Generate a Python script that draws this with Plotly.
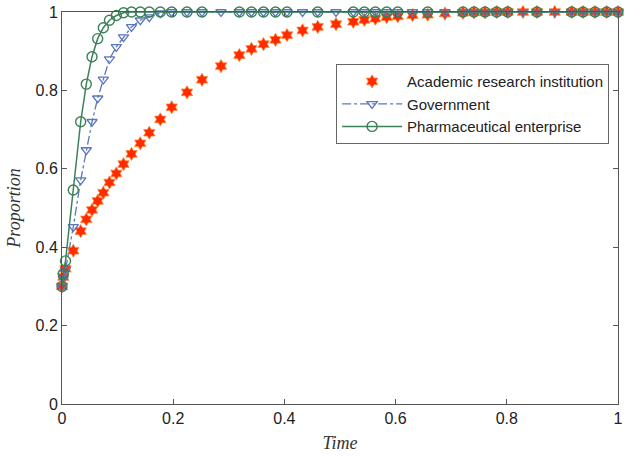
import plotly.graph_objects as go

time = [0, 0.0023, 0.0063, 0.0203, 0.0336, 0.0437, 0.054, 0.0642, 0.0743, 0.0854,
        0.0977, 0.1106, 0.125, 0.1408, 0.157, 0.1768, 0.1973, 0.2248, 0.2518, 0.286,
        0.3189, 0.3408, 0.3624, 0.384, 0.4047, 0.4326, 0.4599, 0.4928, 0.5239, 0.5437,
        0.5635, 0.584, 0.6038, 0.6304, 0.6577, 0.6888, 0.7212, 0.741, 0.7608, 0.7818,
        0.8016, 0.8291, 0.8543, 0.8862, 0.9167, 0.9371, 0.9586, 0.9797, 1.0]

academic = [0.30, 0.324, 0.345, 0.391, 0.441, 0.471, 0.495, 0.518, 0.539, 0.565,
            0.588, 0.612, 0.638, 0.665, 0.692, 0.726, 0.757, 0.795, 0.827, 0.862,
            0.890, 0.906, 0.918, 0.929, 0.941, 0.953, 0.962, 0.969, 0.975, 0.980,
            0.983, 0.987, 0.989, 0.992, 0.993, 0.996, 0.998, 0.999, 0.999, 1.0,
            1.0, 1.0, 1.0, 1.0, 1.0, 1.0, 1.0, 1.0, 1.0]

government = [0.30, 0.32, 0.342, 0.452, 0.571, 0.648, 0.720, 0.780, 0.828, 0.880,
              0.911, 0.936, 0.962, 0.979, 0.987, 0.997, 1.0, 1.0, 1.0, 1.0,
              1.0, 1.0, 1.0, 1.0, 1.0, 1.0, 1.0, 1.0, 1.0, 1.0,
              1.0, 1.0, 1.0, 1.0, 1.0, 1.0, 1.0, 1.0, 1.0, 1.0,
              1.0, 1.0, 1.0, 1.0, 1.0, 1.0, 1.0, 1.0, 1.0]

# circles absent at a few time points
missing = (19, 25, 27, 33, 35, 41, 43)
enterprise_full = [0.30, 0.332, 0.365, 0.546, 0.720, 0.816, 0.886, 0.932, 0.960, 0.979,
                   0.991, 0.998, 1.0, 1.0, 1.0, 1.0, 1.0, 1.0, 1.0, 1.0,
                   1.0, 1.0, 1.0, 1.0, 1.0, 1.0, 1.0, 1.0, 1.0, 1.0,
                   1.0, 1.0, 1.0, 1.0, 1.0, 1.0, 1.0, 1.0, 1.0, 1.0,
                   1.0, 1.0, 1.0, 1.0, 1.0, 1.0, 1.0, 1.0, 1.0]
enterprise_time = [t for i, t in enumerate(time) if i not in missing]
enterprise = [v for i, v in enumerate(enterprise_full) if i not in missing]

x_ticks = [0, 0.2, 0.4, 0.6, 0.8, 1]
x_labels = ["0", "0.2", "0.4", "0.6", "0.8", "1"]
y_ticks = [0, 0.2, 0.4, 0.6, 0.8, 1]
y_labels = ["0", "0.2", "0.4", "0.6", "0.8", "1"]

red = "#ff2a00"
blue = "#5b77bd"
green = "#3c805a"

fig = go.Figure()
fig.add_trace(go.Scatter(
    x=time, y=academic, mode="markers", name="Academic research institution",
    marker=dict(symbol="hexagram", size=10, color=red, line=dict(color="#ff8a3a", width=0.8)),
    cliponaxis=False))
fig.add_trace(go.Scatter(
    x=time, y=government, mode="lines+markers", name="Government",
    line=dict(color=blue, width=1.3, dash="dashdot"),
    marker=dict(symbol="triangle-down-open", size=9, color=blue, line=dict(width=1.3)),
    cliponaxis=False))
fig.add_trace(go.Scatter(
    x=enterprise_time, y=enterprise, mode="lines+markers", name="Pharmaceutical enterprise",
    line=dict(color=green, width=1.5),
    marker=dict(symbol="circle-open", size=10, color=green, line=dict(width=1.4)),
    cliponaxis=False))

axis_common = dict(
    showgrid=False, zeroline=False, showline=True, linecolor="#555555", linewidth=1,
    mirror="ticks", ticks="inside", ticklen=5, tickcolor="#555555", automargin=False,
    tickfont=dict(family="Liberation Sans, Arial", size=16, color="#222222"),
)
fig.update_xaxes(range=[0, 1], tickvals=x_ticks, ticktext=x_labels,
                 title=dict(text="<i>Time</i>", font=dict(family="Liberation Serif, Times New Roman", size=18, color="#333333"), standoff=10),
                 **axis_common)
fig.update_yaxes(range=[0, 1], tickvals=y_ticks, ticktext=y_labels,
                 title=dict(text="<i>Proportion</i>", font=dict(family="Liberation Serif, Times New Roman", size=18, color="#333333"), standoff=10),
                 **axis_common)

fig.update_layout(
    width=630, height=457,
    margin=dict(l=62, r=12, t=12, b=53),
    plot_bgcolor="white", paper_bgcolor="white",
    legend=dict(x=0.493, y=0.867, xanchor="left", yanchor="top",
                bgcolor="white", bordercolor="#666666", borderwidth=1,
                font=dict(family="Liberation Sans, Arial", size=15, color="#222222"),
                tracegroupgap=0, itemwidth=60),
)

fig.write_html("out.html")
